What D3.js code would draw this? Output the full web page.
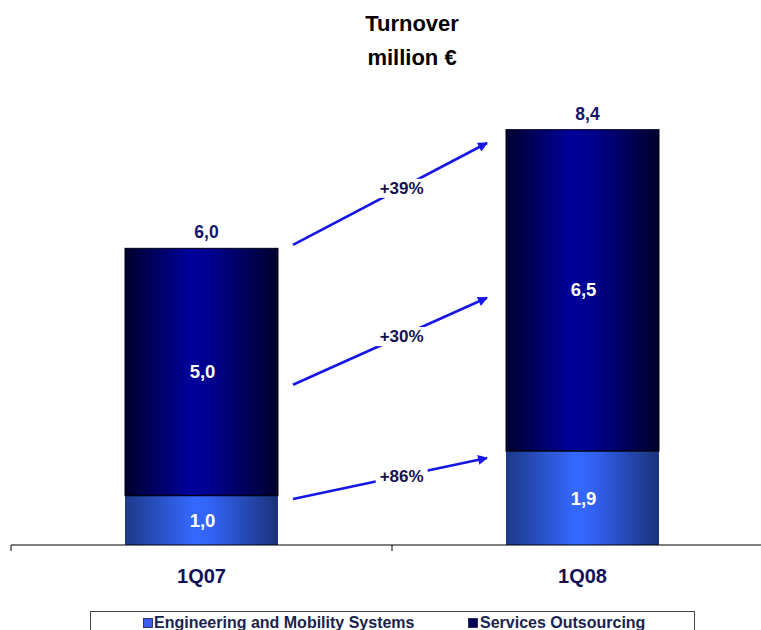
<!DOCTYPE html>
<html>
<head>
<meta charset="utf-8">
<script src="https://cdn.jsdelivr.net/npm/d3@7"></script>
<style>
  html, body { margin: 0; padding: 0; background: #fff; }
  svg { display: block; font-family: "Liberation Sans", Arial, sans-serif; }
</style>
</head>
<body>
<svg id="chart" width="761" height="630"></svg>
<script>
// Quarterly turnover, million €
const categories = ["1Q07", "1Q08"];
const engineering = [1.0, 1.9];   // Engineering and Mobility Systems
const services = [5.0, 6.5];      // Services Outsourcing
const totals = [6.0, 8.4];
const valueLabels = { engineering: ["1,0", "1,9"], services: ["5,0", "6,5"], totals: ["6,0", "8,4"] };
const seriesNames = ["Engineering and Mobility Systems", "Services Outsourcing"];

// Growth arrows between the two quarters (endpoints in value units)
const growthLabels = ["+39%", "+30%", "+86%"];
const growthFrom = [6.07, 3.24, 0.93];
const growthTo = [8.13, 5.0, 1.76];

const svg = d3.select("#chart");
const W = 761;

const x = d3.scaleBand().domain(categories).range([11, 773]).padding(0);
const y = d3.scaleLinear().domain([0, 9]).range([545, 100]);
const barW = 153;
const barX = c => x(c) + (x.bandwidth() - barW) / 2;

// Gradients
const defs = svg.append("defs");
function hGrad(id, stops) {
  const g = defs.append("linearGradient").attr("id", id)
    .attr("x1", 0).attr("x2", 1).attr("y1", 0).attr("y2", 0);
  stops.forEach(([o, c]) => g.append("stop").attr("offset", o).attr("stop-color", c));
}
hGrad("gEng", [[0, "#1d3988"], [0.45, "#3568ff"], [0.55, "#3364f8"], [1, "#1a3278"]]);
hGrad("gSvc", [[0, "#00002e"], [0.42, "#00009a"], [0.55, "#000090"], [1, "#00002c"]]);

defs.append("marker").attr("id", "arrowHead")
  .attr("viewBox", "0 0 10 10").attr("refX", 9).attr("refY", 5)
  .attr("markerWidth", 4.2).attr("markerHeight", 3.8)
  .attr("markerUnits", "strokeWidth").attr("orient", "auto")
  .append("path").attr("d", "M0,0 L10,5 L0,10 Z").attr("fill", "#1616e6");

// Title
const title = svg.append("text").attr("text-anchor", "middle")
  .attr("font-weight", "bold").attr("font-size", 22).attr("fill", "#000");
title.append("tspan").attr("x", 412).attr("y", 31).text("Turnover");
title.append("tspan").attr("x", 412).attr("y", 65).text("million €");

// Stacked bars
const g = svg.append("g");
g.selectAll("rect.svc").data(categories).join("rect").attr("class", "svc")
  .attr("x", barX).attr("width", barW)
  .attr("y", (c, i) => y(engineering[i] + services[i]))
  .attr("height", (c, i) => y(engineering[i]) - y(engineering[i] + services[i]))
  .attr("fill", "url(#gSvc)").attr("stroke", "#000018").attr("stroke-width", 1);

g.selectAll("rect.eng").data(categories).join("rect").attr("class", "eng")
  .attr("x", barX).attr("width", barW)
  .attr("y", (c, i) => y(engineering[i]))
  .attr("height", (c, i) => y(0) - y(engineering[i]))
  .attr("fill", "url(#gEng)");

// Segment boundary line
g.selectAll("line.div").data(categories).join("line").attr("class", "div")
  .attr("x1", barX).attr("x2", c => barX(c) + barW)
  .attr("y1", (c, i) => y(engineering[i])).attr("y2", (c, i) => y(engineering[i]))
  .attr("stroke", "#000018").attr("stroke-width", 1.5);

// Labels inside segments
g.selectAll("text.svcLbl").data(categories).join("text").attr("class", "svcLbl")
  .attr("x", c => x(c) + x.bandwidth() / 2 + 1)
  .attr("y", (c, i) => y(engineering[i] + services[i] / 2) + 6)
  .attr("text-anchor", "middle").attr("font-weight", "bold").attr("font-size", 18.5)
  .attr("fill", "#fff").text((c, i) => valueLabels.services[i]);

g.selectAll("text.engLbl").data(categories).join("text").attr("class", "engLbl")
  .attr("x", c => x(c) + x.bandwidth() / 2 + 1)
  .attr("y", (c, i) => y(engineering[i] / 2) + 7)
  .attr("text-anchor", "middle").attr("font-weight", "bold").attr("font-size", 18.5)
  .attr("fill", "#fff").text((c, i) => valueLabels.engineering[i]);

// Totals above bars
g.selectAll("text.tot").data(categories).join("text").attr("class", "tot")
  .attr("x", c => x(c) + x.bandwidth() / 2 + 5)
  .attr("y", (c, i) => y(totals[i]) - 10)
  .attr("text-anchor", "middle").attr("font-weight", "bold").attr("font-size", 17.5)
  .attr("fill", "#14146e").text((c, i) => valueLabels.totals[i]);

// Axis
const axisG = svg.append("g").attr("transform", `translate(0,${y(0)})`);
axisG.append("line").attr("x1", x(categories[0])).attr("x2", W).attr("y1", 0).attr("y2", 0)
  .attr("stroke", "#000").attr("stroke-width", 1);
axisG.selectAll("line.tick").data(categories).join("line").attr("class", "tick")
  .attr("x1", c => x(c)).attr("x2", c => x(c)).attr("y1", 0).attr("y2", 6)
  .attr("stroke", "#000").attr("stroke-width", 1);
axisG.selectAll("text.cat").data(categories).join("text").attr("class", "cat")
  .attr("x", c => x(c) + x.bandwidth() / 2).attr("y", 38)
  .attr("text-anchor", "middle").attr("font-weight", "bold").attr("font-size", 20)
  .attr("fill", "#0f0f5c").text(c => c);

// Growth arrows
const xStart = barX(categories[0]) + barW + 15;
const xEnd = barX(categories[1]) - 19;
const arrows = svg.append("g");
growthLabels.forEach((lbl, i) => {
  const y0 = y(growthFrom[i]), y1 = y(growthTo[i]);
  arrows.append("line").attr("x1", xStart).attr("y1", y0).attr("x2", xEnd).attr("y2", y1)
    .attr("stroke", "#1616e6").attr("stroke-width", 2.6).attr("marker-end", "url(#arrowHead)");
  const t = 0.56;
  const lx = xStart + t * (xEnd - xStart), ly = y0 + t * (y1 - y0);
  const txt = arrows.append("text").attr("x", lx).attr("y", ly + 6)
    .attr("text-anchor", "middle").attr("font-weight", "bold").attr("font-size", 17)
    .attr("fill", "#12124e").text(lbl);
  const bb = txt.node().getBBox();
  arrows.insert("rect", function () { return txt.node(); })
    .attr("x", bb.x - 4).attr("y", bb.y).attr("width", bb.width + 8).attr("height", bb.height)
    .attr("fill", "#fff");
});

// Legend
const legend = svg.append("g");
legend.append("rect").attr("x", 90.5).attr("y", 611.5).attr("width", 604).attr("height", 40)
  .attr("fill", "#fff").attr("stroke", "#444").attr("stroke-width", 1);
const legendItems = [
  { name: seriesNames[0], fill: "#3a5cf0", sx: 143, tx: 154 },
  { name: seriesNames[1], fill: "#000058", sx: 468, tx: 480 }
];
legendItems.forEach(d => {
  legend.append("rect").attr("x", d.sx + 0.5).attr("y", 618.5).attr("width", 9).attr("height", 9)
    .attr("fill", d.fill).attr("stroke", "#1a1a4a").attr("stroke-width", 0.8);
  legend.append("text").attr("x", d.tx).attr("y", 628)
    .attr("font-weight", "bold").attr("font-size", 16).attr("fill", "#1a2350").text(d.name);
});
</script>
</body>
</html>
